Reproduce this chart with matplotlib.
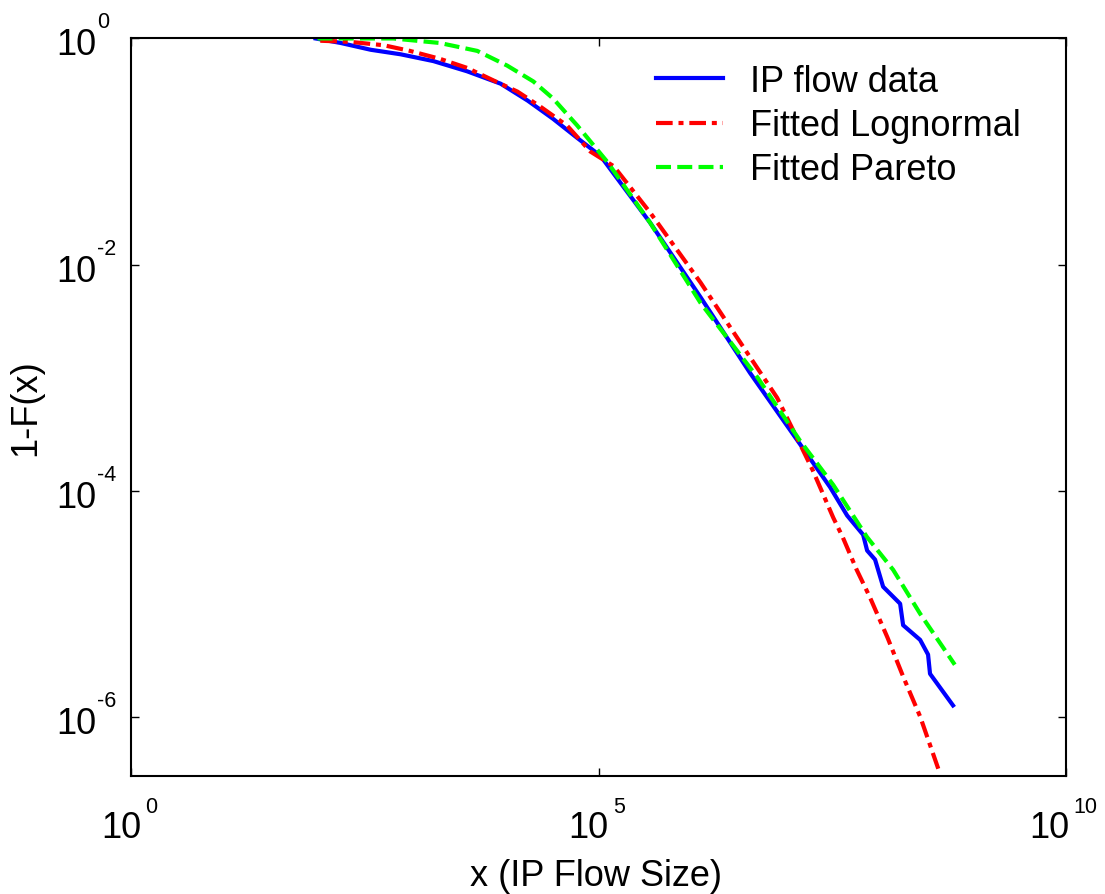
import matplotlib
matplotlib.use("Agg")
import matplotlib.pyplot as plt
import numpy as np

plt.rcParams['font.family'] = ['Liberation Sans', 'DejaVu Sans']

# log10 coordinates
ip_logx = [1.97, 2.24, 2.56, 2.88, 3.23, 3.59, 3.95, 4.24, 4.51, 4.77, 5.02, 5.55, 6.09, 6.62,
           7.155, 7.476, 7.658, 7.829, 7.872, 7.957, 8.043, 8.225, 8.257, 8.439, 8.524, 8.545, 8.791]
ip_logy = [0.0, -0.04, -0.10, -0.14, -0.20, -0.29, -0.40, -0.55, -0.71, -0.88, -1.04, -1.63, -2.29, -2.96,
           -3.59, -3.97, -4.22, -4.39, -4.53, -4.61, -4.85, -5.00, -5.19, -5.32, -5.45, -5.62, -5.90]

logn_logx = [2.02, 2.34, 2.70, 2.98, 3.30, 3.59, 3.87, 4.13, 4.37, 4.66, 4.91, 5.16, 5.55, 6.09,
             6.62, 6.91, 7.155, 7.29, 7.51, 7.61, 7.76, 7.90, 8.09, 8.26, 8.44, 8.65]
logn_logy = [-0.02, -0.03, -0.06, -0.11, -0.18, -0.26, -0.37, -0.47, -0.60, -0.77, -1.00, -1.13, -1.54, -2.16,
             -2.82, -3.18, -3.59, -3.82, -4.24, -4.41, -4.70, -4.94, -5.30, -5.65, -6.00, -6.50]

par_logx = [1.99, 2.80, 3.30, 3.70, 4.02, 4.30, 4.51, 4.77, 5.09, 5.55, 6.09, 6.70,
            7.155, 7.51, 7.87, 8.15, 8.44, 8.81]
par_logy = [0.0, 0.0, -0.04, -0.11, -0.24, -0.38, -0.53, -0.77, -1.09, -1.63, -2.34, -3.00,
            -3.56, -3.95, -4.41, -4.70, -5.09, -5.54]

labels = ["IP flow data", "Fitted Lognormal", "Fitted Pareto"]
x_exps = [0, 5, 10]
y_exps = [0, -2, -4, -6]

PX = 0.72  # points per pixel at dpi 100

fig = plt.figure(figsize=(11.05, 8.95), dpi=100)
ax = fig.add_axes([0.119, 0.1324, 0.8457, 0.8235])

ax.loglog(np.power(10.0, ip_logx), np.power(10.0, ip_logy), color='#0000ff', lw=3,
          label=labels[0])
ax.loglog(np.power(10.0, logn_logx), np.power(10.0, logn_logy), color='#ff0000', lw=3,
          linestyle=(0, (4, 1.4, 1.2, 1.4)), label=labels[1])
ax.loglog(np.power(10.0, par_logx), np.power(10.0, par_logy), color='#00ff00', lw=3,
          linestyle=(0, (3.6, 1.5)), label=labels[2])

ax.set_xlim(1, 1e10)
ax.set_ylim(10 ** -6.52, 1)
ax.set_xticks([10.0 ** e for e in x_exps])
ax.set_yticks([10.0 ** e for e in y_exps])
ax.minorticks_off()
ax.tick_params(which='both', direction='in', top=True, right=True, length=6, width=1,
               labelbottom=False, labelleft=False)
for s in ax.spines.values():
    s.set_linewidth(1.5)

# MATLAB-style tick labels: "10" with a small raised exponent
for e in x_exps:
    es = str(e)
    w = 13 * len(es)
    left = -(41 + w) / 2.0
    ax.annotate("10", xy=(10.0 ** e, 0), xycoords=('data', 'axes fraction'),
                xytext=((left + 37) * PX, -61 * PX), textcoords='offset points',
                ha='right', va='baseline', fontsize=26, annotation_clip=False)
    ax.annotate(es, xy=(10.0 ** e, 0), xycoords=('data', 'axes fraction'),
                xytext=((left + 41) * PX, -36 * PX), textcoords='offset points',
                ha='left', va='baseline', fontsize=15.5, annotation_clip=False)
for e in y_exps:
    ax.annotate("10", xy=(0, 10.0 ** e), xycoords=('axes fraction', 'data'),
                xytext=(-75 * PX, -16 * PX), textcoords='offset points',
                ha='left', va='baseline', fontsize=26, annotation_clip=False)
    ax.annotate(str(e), xy=(0, 10.0 ** e), xycoords=('axes fraction', 'data'),
                xytext=(-34 * PX, 11 * PX), textcoords='offset points',
                ha='left', va='baseline', fontsize=15.5, annotation_clip=False)

ax.set_xlabel("x (IP Flow Size)", fontsize=26)
ax.set_ylabel("1-F(x)", fontsize=26)
ax.xaxis.set_label_coords(0.497, -0.112)
ax.yaxis.set_label_coords(-0.094, 0.5)

ax.legend(loc='upper right', frameon=False, fontsize=26, handlelength=1.85,
          handletextpad=0.75, labelspacing=0.25, bbox_to_anchor=(0.979, 0.9995),
          borderaxespad=0.3)

plt.savefig("out.png", dpi=100)
plt.close()
